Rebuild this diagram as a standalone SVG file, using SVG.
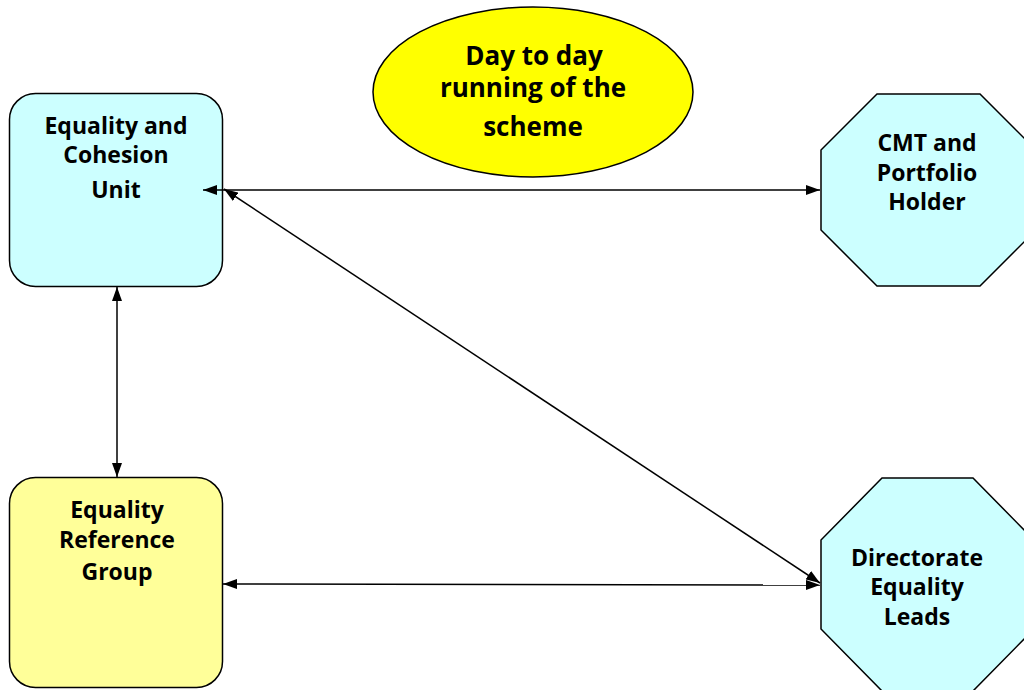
<svg xmlns="http://www.w3.org/2000/svg" width="1024" height="690" viewBox="0 0 1024 690">
  <defs>
    <marker id="ah" viewBox="0 0 14 10" refX="14" refY="5" markerWidth="14" markerHeight="10" markerUnits="userSpaceOnUse" orient="auto-start-reverse">
      <path d="M0,0 L14,5 L0,10 Z" fill="#000"/>
    </marker>
  </defs>
  <style>
    .lbl { font-family: "Open Sans", "Liberation Sans", sans-serif; font-weight: bold; font-size: 23px; fill: #000; text-anchor: middle; }
    .big { font-size: 26px; }
    .cyan { fill: #CCFFFF; stroke: #000; stroke-width: 1.5; }
    .pale { fill: #FFFF99; stroke: #000; stroke-width: 1.5; }
    .conn { stroke: #000; stroke-width: 1.5; fill: none; marker-start: url(#ah); marker-end: url(#ah); }
  </style>
  <rect width="1024" height="690" fill="#fff"/>

  <g id="scheme">
    <ellipse cx="533" cy="92" rx="160" ry="85" fill="#FFFF00" stroke="#000" stroke-width="1.5"/>
    <text class="lbl big" x="534" y="65">Day to day</text>
    <text class="lbl big" x="533" y="97">running of the</text>
    <text class="lbl big" x="533" y="136">scheme</text>
  </g>

  <g id="ecu">
    <rect class="cyan" x="9.5" y="93.5" width="213" height="193" rx="26"/>
    <text class="lbl" x="116" y="134">Equality and</text>
    <text class="lbl" x="116" y="163">Cohesion</text>
    <text class="lbl" x="116" y="198">Unit</text>
  </g>

  <g id="erg">
    <rect class="pale" x="9.5" y="477.5" width="213" height="210" rx="26"/>
    <text class="lbl" x="117" y="518">Equality</text>
    <text class="lbl" x="117" y="548">Reference</text>
    <text class="lbl" x="117" y="580">Group</text>
  </g>

  <g id="cmt">
    <polygon class="cyan" points="877,94 980,94 1036,150 1036,230 980,286 877,286 821,230 821,150"/>
    <text class="lbl" x="927" y="151">CMT and</text>
    <text class="lbl" x="927" y="181">Portfolio</text>
    <text class="lbl" x="927" y="210">Holder</text>
  </g>

  <g id="del">
    <polygon class="cyan" points="882,478 973,478 1034,540 1034,629 973,691 882,691 821,629 821,540"/>
    <text class="lbl" x="917" y="566">Directorate</text>
    <text class="lbl" x="917" y="595">Equality</text>
    <text class="lbl" x="917" y="625">Leads</text>
  </g>

  <g id="connectors">
    <line class="conn" x1="203" y1="190" x2="820" y2="190"/>
    <line class="conn" x1="224" y1="189" x2="820" y2="583"/>
    <line class="conn" x1="223" y1="584" x2="820" y2="585"/>
    <line class="conn" x1="117" y1="287" x2="117" y2="477"/>
  </g>
</svg>
